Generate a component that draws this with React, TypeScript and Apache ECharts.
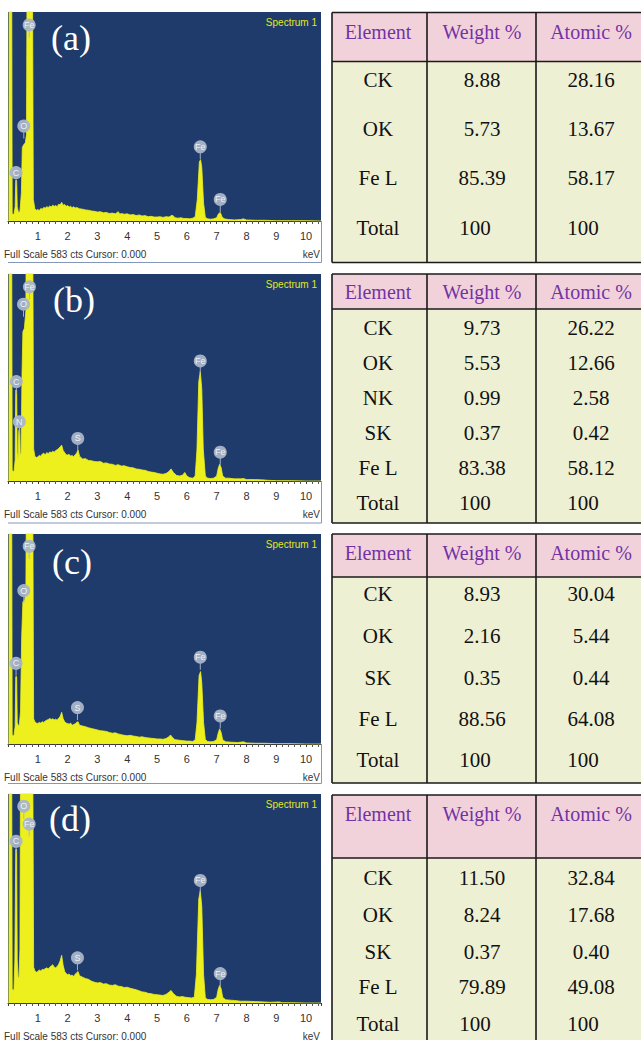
import React, { useEffect, useRef } from 'react';
import * as echarts from 'echarts';

// ---------- DATA ----------
const panelLetters = ['(a)', '(b)', '(c)', '(d)'];
const spectrumTitle = 'Spectrum 1';
const scaleText = 'Full Scale 583 cts Cursor: 0.000';
const unitText = 'keV';
const fullScale = 583;
const keVMax = 10.5;
const tableHeaders = ['Element', 'Weight %', 'Atomic %'];

// spectra: [keV, counts]
const spectrumA = [[0,0],[0.03,0],[0.04,900],[0.12,900],[0.14,20],[0.2,18],[0.24,40],[0.26,113],[0.29,113],[0.31,40],[0.35,24],[0.4,26],[0.45,80],[0.48,205],[0.52,212],[0.58,218],[0.62,240],[0.65,900],[0.81,900],[0.85,60],[0.9,34],[0.95,30],[1.0,32],[1.05,29],[1.1,35],[1.15,33],[1.2,38],[1.25,36],[1.3,40],[1.35,38],[1.4,42],[1.45,39],[1.5,44],[1.55,41],[1.6,43],[1.65,40],[1.7,47],[1.75,45],[1.8,52],[1.85,44],[1.9,46],[1.95,41],[2.0,43],[2.05,39],[2.1,41],[2.15,37],[2.2,40],[2.25,36],[2.3,38],[2.4,34],[2.5,33],[2.6,31],[2.7,30],[2.8,28],[2.9,27],[3.0,25],[3.1,26],[3.2,23],[3.3,24],[3.4,21],[3.5,22],[3.6,20],[3.7,26],[3.75,19],[3.8,21],[3.9,19],[4.0,20],[4.1,17],[4.2,18],[4.3,15],[4.4,17],[4.5,14],[4.6,15],[4.7,12],[4.8,13],[4.9,11],[5.0,11],[5.1,12],[5.2,10],[5.3,12],[5.4,11],[5.5,16],[5.55,14],[5.6,9],[5.7,8],[5.8,9],[5.9,7],[6.0,7],[6.1,6],[6.2,8],[6.28,12],[6.35,60],[6.42,165],[6.46,171],[6.5,150],[6.56,50],[6.62,10],[6.7,6],[6.8,5],[6.9,6],[7.0,9],[7.06,20],[7.12,24],[7.18,12],[7.25,6],[7.4,4],[7.6,3],[7.8,4],[7.9,6],[8.0,3],[8.3,2],[8.6,2],[9.0,1],[9.5,1],[10.0,1],[10.5,0]];
const spectrumB = [[0,0],[0.03,0],[0.04,900],[0.12,900],[0.14,30],[0.2,25],[0.24,60],[0.26,256],[0.29,256],[0.31,80],[0.34,60],[0.36,140],[0.39,148],[0.41,70],[0.44,80],[0.47,300],[0.5,420],[0.55,430],[0.6,480],[0.62,900],[0.82,900],[0.86,90],[0.9,70],[0.95,66],[1.0,68],[1.05,72],[1.1,70],[1.15,76],[1.2,78],[1.25,74],[1.3,80],[1.35,77],[1.4,82],[1.45,80],[1.5,84],[1.55,81],[1.6,86],[1.65,88],[1.7,92],[1.75,96],[1.8,101],[1.85,86],[1.9,80],[1.95,74],[2.0,73],[2.05,75],[2.1,70],[2.15,72],[2.2,68],[2.25,74],[2.3,78],[2.35,87],[2.4,70],[2.45,66],[2.5,62],[2.6,63],[2.7,58],[2.8,57],[2.9,55],[3.0,54],[3.1,55],[3.2,50],[3.3,51],[3.4,48],[3.5,47],[3.6,44],[3.7,46],[3.8,42],[3.9,43],[4.0,40],[4.1,38],[4.2,37],[4.3,34],[4.4,33],[4.5,31],[4.6,30],[4.7,27],[4.8,25],[4.9,24],[5.0,22],[5.1,20],[5.2,19],[5.3,21],[5.4,27],[5.47,34],[5.55,24],[5.65,16],[5.75,14],[5.85,16],[5.93,24],[6.0,14],[6.1,9],[6.2,8],[6.28,14],[6.34,90],[6.4,280],[6.45,308],[6.5,260],[6.55,90],[6.62,14],[6.7,8],[6.8,7],[6.9,8],[7.0,14],[7.05,35],[7.1,47],[7.15,38],[7.2,14],[7.3,8],[7.4,8],[7.6,6],[7.8,6],[7.9,7],[8.0,4],[8.3,4],[8.6,3],[8.7,2],[9.0,1],[9.5,1],[10.0,0],[10.5,0]];
const spectrumC = [[0,0],[0.03,0],[0.04,900],[0.12,900],[0.14,25],[0.2,22],[0.24,50],[0.26,187],[0.29,187],[0.31,60],[0.35,50],[0.38,53],[0.42,90],[0.46,300],[0.5,395],[0.56,400],[0.6,430],[0.63,900],[0.82,900],[0.86,70],[0.9,62],[0.95,58],[1.0,57],[1.05,60],[1.1,58],[1.15,62],[1.2,60],[1.25,64],[1.3,66],[1.35,68],[1.4,71],[1.45,68],[1.5,70],[1.55,67],[1.6,69],[1.65,66],[1.7,72],[1.75,76],[1.8,88],[1.85,70],[1.9,62],[1.95,58],[2.0,57],[2.05,55],[2.1,58],[2.15,52],[2.2,54],[2.25,56],[2.3,60],[2.35,62],[2.4,52],[2.5,50],[2.6,48],[2.7,45],[2.8,43],[2.9,41],[3.0,39],[3.1,37],[3.2,36],[3.3,35],[3.4,32],[3.5,30],[3.6,31],[3.7,28],[3.8,26],[3.9,24],[4.0,23],[4.1,24],[4.2,22],[4.3,21],[4.4,19],[4.5,20],[4.6,18],[4.7,17],[4.8,16],[4.9,15],[5.0,14],[5.1,14],[5.2,13],[5.3,15],[5.4,20],[5.45,25],[5.52,18],[5.6,12],[5.7,11],[5.8,10],[5.9,9],[6.0,8],[6.1,8],[6.2,7],[6.28,12],[6.34,60],[6.41,190],[6.46,201],[6.5,170],[6.56,60],[6.62,12],[6.7,7],[6.8,6],[6.9,7],[7.0,12],[7.05,30],[7.1,42],[7.15,32],[7.2,12],[7.3,6],[7.5,5],[7.7,4],[7.9,6],[8.0,3],[8.3,2],[8.6,2],[9.0,1],[9.5,1],[10.0,0],[10.5,0]];
const spectrumD = [[0,0],[0.03,0],[0.04,900],[0.12,900],[0.14,40],[0.2,35],[0.23,120],[0.26,428],[0.29,428],[0.31,120],[0.34,70],[0.37,72],[0.4,150],[0.43,900],[0.82,900],[0.86,100],[0.9,90],[0.95,86],[1.0,88],[1.05,92],[1.1,89],[1.15,94],[1.2,93],[1.25,96],[1.3,98],[1.35,95],[1.4,100],[1.45,103],[1.5,107],[1.55,100],[1.6,98],[1.65,102],[1.7,108],[1.75,118],[1.8,133],[1.85,105],[1.9,88],[1.95,82],[2.0,79],[2.05,81],[2.1,76],[2.15,78],[2.2,74],[2.25,80],[2.3,84],[2.35,88],[2.4,76],[2.5,72],[2.6,68],[2.7,66],[2.8,61],[2.9,58],[3.0,56],[3.1,57],[3.2,53],[3.3,54],[3.4,50],[3.5,49],[3.6,51],[3.7,47],[3.8,46],[3.9,43],[4.0,44],[4.1,41],[4.2,39],[4.3,37],[4.4,34],[4.5,31],[4.6,30],[4.7,27],[4.8,26],[4.9,24],[5.0,23],[5.1,22],[5.2,21],[5.3,24],[5.4,30],[5.47,35],[5.55,26],[5.65,19],[5.75,17],[5.85,18],[5.95,16],[6.05,15],[6.15,14],[6.25,16],[6.32,80],[6.4,290],[6.45,313],[6.5,270],[6.56,80],[6.62,14],[6.7,10],[6.8,9],[6.9,10],[7.0,16],[7.05,38],[7.1,49],[7.15,40],[7.2,16],[7.3,9],[7.45,8],[7.6,7],[7.8,5],[8.0,5],[8.3,4],[8.6,3],[8.8,2],[9.1,3],[9.2,1],[9.5,1],[10.0,0],[10.5,0]];

// peak markers: [keV, counts, element]
const markersA = [[0.71,547,'Fe'],[0.53,265,'O'],[0.27,135,'C'],[6.45,207,'Fe'],[7.12,60,'Fe']];
const markersB = [[0.72,547,'Fe'],[0.52,498,'O'],[0.28,280,'C'],[0.38,167,'N'],[2.34,120,'S'],[6.45,338,'Fe'],[7.12,81,'Fe']];
const markersC = [[0.71,549,'Fe'],[0.53,426,'O'],[0.27,224,'C'],[2.33,101,'S'],[6.45,241,'Fe'],[7.12,78,'Fe']];
const markersD = [[0.53,549,'O'],[0.71,499,'Fe'],[0.27,451,'C'],[2.33,126,'S'],[6.45,342,'Fe'],[7.12,82,'Fe']];

// tables
const elementsA = ['CK', 'OK', 'Fe L', 'Total'];
const weightA = ['8.88', '5.73', '85.39', '100'];
const atomicA = ['28.16', '13.67', '58.17', '100'];
const elementsB = ['CK', 'OK', 'NK', 'SK', 'Fe L', 'Total'];
const weightB = ['9.73', '5.53', '0.99', '0.37', '83.38', '100'];
const atomicB = ['26.22', '12.66', '2.58', '0.42', '58.12', '100'];
const elementsC = ['CK', 'OK', 'SK', 'Fe L', 'Total'];
const weightC = ['8.93', '2.16', '0.35', '88.56', '100'];
const atomicC = ['30.04', '5.44', '0.44', '64.08', '100'];
const elementsD = ['CK', 'OK', 'SK', 'Fe L', 'Total'];
const weightD = ['11.50', '8.24', '0.37', '79.89', '100'];
const atomicD = ['32.84', '17.68', '0.40', '49.08', '100'];

const spectra = [spectrumA, spectrumB, spectrumC, spectrumD];
const markers = [markersA, markersB, markersC, markersD];
const tables = [
  [elementsA, weightA, atomicA],
  [elementsB, weightB, atomicB],
  [elementsC, weightC, atomicC],
  [elementsD, weightD, atomicD],
];

// ---------- LAYOUT ----------
const layout = [
  { top: 12, bottom: 221, frame: 262.5, letter: [71, 38], tTop: 12.5, tHead: 61.5, tBottom: 262.5, headY: 31.5, rowsY: [80, 129, 178, 228] },
  { top: 274, bottom: 481, frame: 523, letter: [74, 300], tTop: 274, tHead: 309, tBottom: 523, headY: 291.5, rowsY: [328, 363, 398, 433, 468, 503] },
  { top: 534, bottom: 744, frame: 783.5, letter: [72, 562], tTop: 534, tHead: 577, tBottom: 783, headY: 553, rowsY: [594, 636, 678, 719, 760] },
  { top: 794, bottom: 1003, frame: 1045, letter: [70, 819], tTop: 795, tHead: 858, tBottom: 1045, headY: 814, rowsY: [878, 915, 952, 987, 1024] },
];
const GRID_LEFT = 8;
const GRID_W = 313;
const TX = { left: 332, c1: 427, c2: 536, right: 660 };
const colCenters = [378, 482, 591];
const totalCenters = [378, 475, 583];

const NAVY = '#1f3b6b';
const YELLOW = '#eef01e';
const SANS = 'Liberation Sans Narrow, Liberation Sans, Arial, sans-serif';
const SERIF = 'Liberation Serif, Times New Roman, serif';

const markerPath = 'path://M6.5,0 A6.5,6.5 0 1 1 6.49,0 Z M6,12 L7,12 L7,19 L6,19 Z';

function txt(x: number, y: number, text: string, fill: string, size: number, family: string, align: string, z = 10) {
  return {
    type: 'text', x, y, z,
    style: { text, fill, fontSize: size, fontFamily: family, textAlign: align, textVerticalAlign: 'middle' },
  };
}

function buildOption() {
  const grid: any[] = [];
  const xAxis: any[] = [];
  const yAxis: any[] = [];
  const series: any[] = [];
  const graphic: any[] = [];

  layout.forEach((L, i) => {
    grid.push({
      left: GRID_LEFT, top: L.top, width: GRID_W, height: L.bottom - L.top,
      show: true, backgroundColor: NAVY, borderWidth: 0,
    });
    xAxis.push({
      type: 'value', gridIndex: i, min: 0, max: keVMax, interval: 1,
      axisLine: { show: true, lineStyle: { color: '#3a3a3a', width: 1 } },
      axisTick: { show: true, length: 3, lineStyle: { color: '#3a3a3a' } },
      minorTick: { show: true, splitNumber: 5, length: 3, lineStyle: { color: '#555' } },
      splitLine: { show: false },
      minorSplitLine: { show: false },
      axisLabel: {
        margin: 9, fontSize: 11, color: '#333', fontFamily: SANS,
        showMaxLabel: false,
        formatter: (v: number) => (v > 0 && v <= 10 && Number.isInteger(v) ? String(v) : ''),
      },
    });
    yAxis.push({ type: 'value', gridIndex: i, min: 0, max: fullScale, show: false });
    series.push({
      type: 'line', xAxisIndex: i, yAxisIndex: i, data: spectra[i],
      symbol: 'none', clip: true, z: 2,
      lineStyle: { color: YELLOW, width: 0.8 },
      areaStyle: { color: YELLOW, opacity: 1 },
    });
    series.push({
      type: 'scatter', xAxisIndex: i, yAxisIndex: i, z: 4,
      data: markers[i].map((m) => ({ value: [m[0], m[1]], name: m[2] })),
      symbol: markerPath, symbolSize: [13, 19], symbolOffset: [0, 3],
      itemStyle: { color: '#a9b5c9', opacity: 0.95 },
      label: {
        show: true, position: 'inside', offset: [0, -3], formatter: '{b}',
        color: '#f4f7fb', fontSize: 9, fontFamily: SANS,
      },
    });

    graphic.push(txt(L.letter[0], L.letter[1], panelLetters[i], '#ffffff', 36, SERIF, 'center'));
    graphic.push(txt(317, L.top + 10, spectrumTitle, '#e4e61c', 10, SANS, 'right'));
    const footY = L.bottom + 33;
    graphic.push(txt(4, footY, scaleText, '#333', 10, SANS, 'left'));
    graphic.push(txt(320, footY, unitText, '#333', 10, SANS, 'right'));
    if (L.frame < 1040) {
      graphic.push({
        type: 'polyline', z: 10,
        shape: { points: [[8, L.frame], [321.5, L.frame], [321.5, L.bottom]] },
        style: { stroke: '#8497b8', lineWidth: 1, fill: null },
      });
    }

    // table
    const [els, wts, ats] = tables[i];
    graphic.push({
      type: 'rect', z: 1, shape: { x: TX.left, y: L.tTop, width: TX.right - TX.left, height: L.tHead - L.tTop },
      style: { fill: '#f2d2da' },
    });
    graphic.push({
      type: 'rect', z: 1, shape: { x: TX.left, y: L.tHead, width: TX.right - TX.left, height: L.tBottom - L.tHead },
      style: { fill: '#eef0d3' },
    });
    const lineStyle = { stroke: '#1a1a1a', lineWidth: 1.6 };
    [L.tTop, L.tHead, L.tBottom].forEach((yy) => {
      graphic.push({ type: 'line', z: 3, shape: { x1: TX.left, y1: yy, x2: TX.right, y2: yy }, style: lineStyle });
    });
    [TX.left, TX.c1, TX.c2].forEach((xx) => {
      graphic.push({ type: 'line', z: 3, shape: { x1: xx, y1: L.tTop, x2: xx, y2: L.tBottom }, style: lineStyle });
    });
    tableHeaders.forEach((h, c) => {
      graphic.push(txt(colCenters[c], L.headY, h, '#7232a6', 20, SERIF, 'center', 5));
    });
    els.forEach((el, r) => {
      const isTotal = r === els.length - 1;
      const centers = isTotal ? totalCenters : colCenters;
      [el, wts[r], ats[r]].forEach((val, c) => {
        graphic.push(txt(centers[c], L.rowsY[r], val, '#111', 21, SERIF, 'center', 5));
      });
    });
  });

  return { animation: false, backgroundColor: '#ffffff', grid, xAxis, yAxis, series, graphic: { elements: graphic } };
}

export default function App() {
  const ref = useRef<HTMLDivElement>(null);
  useEffect(() => {
    if (!ref.current) return;
    const chart = echarts.init(ref.current, undefined, { renderer: 'svg' });
    chart.setOption(buildOption() as any);
    return () => chart.dispose();
  }, []);
  return (
    <div
      ref={ref}
      style={{ position: 'absolute', left: 0, top: 0, width: 641, height: 1040, background: '#fff' }}
    />
  );
}
